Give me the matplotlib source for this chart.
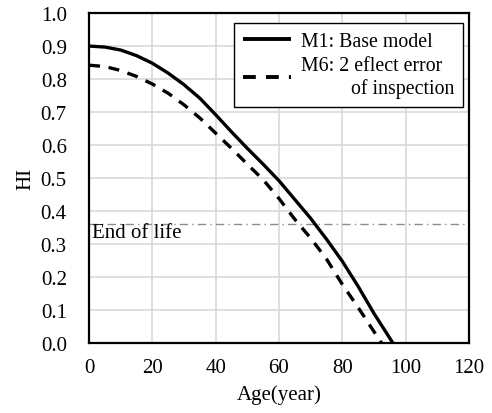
import matplotlib
matplotlib.use("Agg")
import matplotlib.pyplot as plt

plt.rcParams['font.family'] = ['Liberation Serif', 'DejaVu Serif']
plt.rcParams['mathtext.fontset'] = 'stix'

age_m1 = [0, 5, 10, 15, 20, 25, 30, 35, 40, 45, 50, 55, 60, 65, 70, 75, 80, 85, 90, 95, 96]
hi_m1 = [0.900, 0.897, 0.888, 0.871, 0.848, 0.818, 0.783, 0.742, 0.692, 0.640, 0.590,
         0.542, 0.492, 0.435, 0.378, 0.315, 0.248, 0.172, 0.090, 0.015, 0.0]
age_m6 = [0, 5, 10, 15, 20, 25, 30, 35, 40, 45, 50, 55, 60, 65, 70, 75, 80, 85, 90, 92.4]
hi_m6 = [0.842, 0.838, 0.826, 0.808, 0.785, 0.757, 0.722, 0.682, 0.636, 0.590, 0.542,
         0.495, 0.438, 0.375, 0.318, 0.255, 0.178, 0.108, 0.035, 0.0]
end_of_life = 0.36
label_m1 = "M1: Base model"
label_m6 = "M6: 2 eflect error\n          of inspection"
x_ticks = [0, 20, 40, 60, 80, 100, 120]
y_ticks = [0.0, 0.1, 0.2, 0.3, 0.4, 0.5, 0.6, 0.7, 0.8, 0.9, 1.0]

FS = 15

fig = plt.figure(figsize=(4.92, 4.14), dpi=100)
ax = fig.add_axes([0.181, 0.169, 0.772, 0.797])

ax.plot(age_m1, hi_m1, color='black', lw=2.4, label=label_m1, solid_capstyle='butt',
        solid_joinstyle='round', zorder=3)
ax.plot(age_m6, hi_m6, color='black', lw=2.4, dashes=(3.3, 2.6), label=label_m6, zorder=3)
ax.axhline(end_of_life, color='#8c8c8c', lw=1.0, linestyle=(0, (6, 3, 1, 3)), zorder=2)
ax.text(1, end_of_life - 0.025, "End of life", fontsize=FS, va='center', ha='left')

ax.set_xlim(0, 120)
ax.set_ylim(0, 1.0)
ax.set_xticks(x_ticks)
ax.set_yticks(y_ticks)
ax.set_xticklabels([str(v) for v in x_ticks])
ax.set_yticklabels([f"{v:.1f}" for v in y_ticks])
ax.tick_params(length=0, labelsize=FS)
ax.tick_params(axis='y', pad=16)
ax.tick_params(axis='x', pad=11)
ax.grid(True, color='#d9d9d9', lw=1.2, zorder=0)
ax.set_axisbelow(True)
for s in ax.spines.values():
    s.set_linewidth(1.6)
    s.set_color('black')

ax.set_xlabel("Age(year)", fontsize=FS, labelpad=5)
ax.set_ylabel("HI", fontsize=FS, labelpad=4)

leg = ax.legend(loc='upper right', bbox_to_anchor=(0.985, 0.97), fontsize=14.3,
                frameon=True, fancybox=False, edgecolor='black', framealpha=1,
                handlelength=2.4, handletextpad=0.5, borderpad=0.45, labelspacing=0.25,
                borderaxespad=0)
leg.get_frame().set_linewidth(1.0)
for line in leg.get_lines():
    line.set_linewidth(2.8)

fig.savefig("out.png", dpi=100)
